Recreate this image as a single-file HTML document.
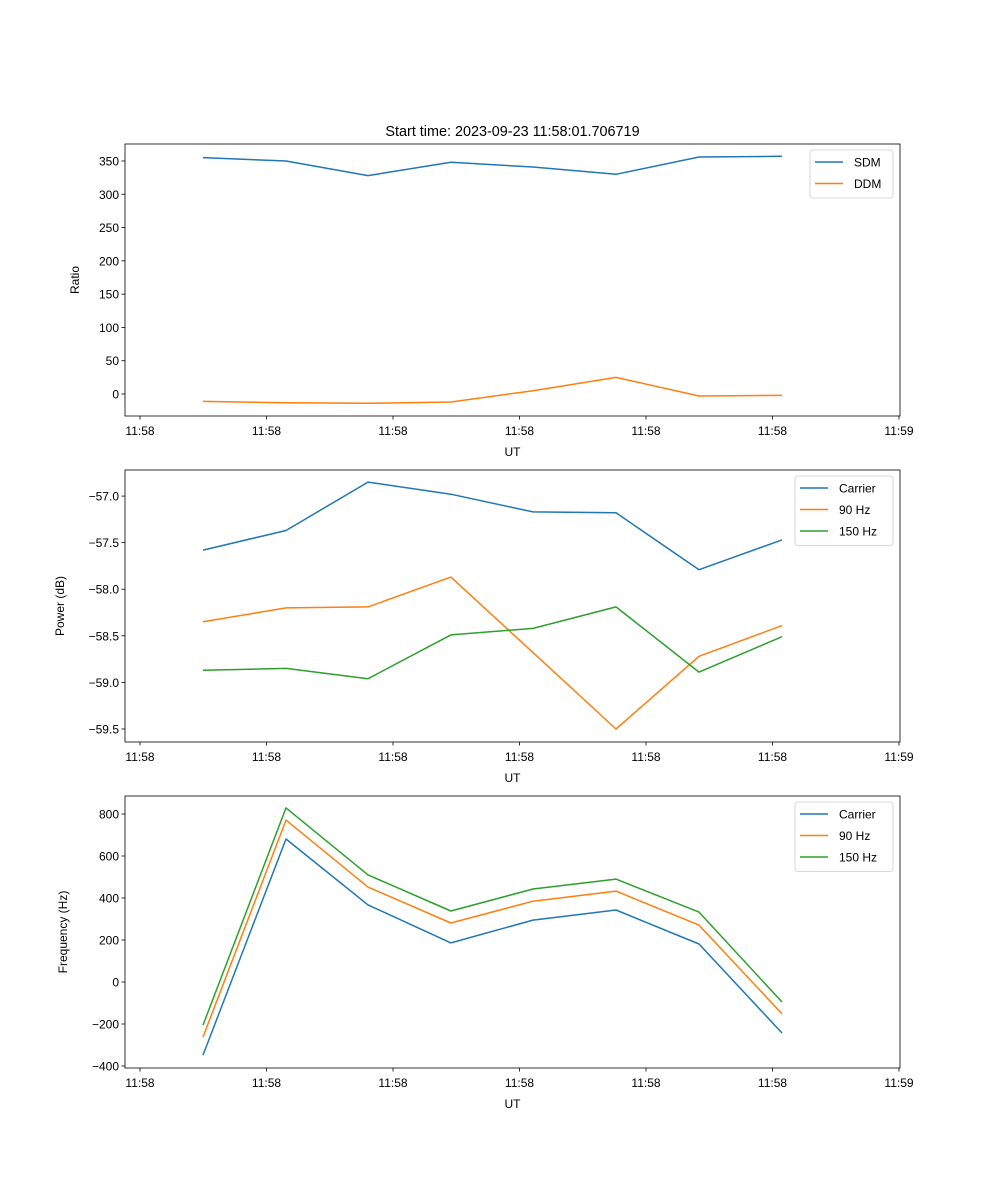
<!DOCTYPE html>
<html><head><meta charset="utf-8"><style>
html,body{margin:0;padding:0;background:#fff}
svg{display:block;font-family:"Liberation Sans","DejaVu Sans",sans-serif}
</style></head><body>
<svg id="fig" width="1000" height="1200" xmlns="http://www.w3.org/2000/svg"></svg>
<script>
const times = [0.498, 1.154, 1.802, 2.458, 3.107, 3.763, 4.419, 5.075];
const xTicks = [0, 1, 2, 3, 4, 5, 6];
const xTickLabels = ["11:58","11:58","11:58","11:58","11:58","11:58","11:59"];
const sdm = [355, 350, 328, 348, 341, 330, 356, 357];
const ddm = [-11, -13, -14, -12, 5, 25, -3, -2];
const ratioTicks = [0, 50, 100, 150, 200, 250, 300, 350];
const powCarrier = [-57.58, -57.37, -56.85, -56.98, -57.17, -57.18, -57.79, -57.47];
const pow90 = [-58.35, -58.20, -58.19, -57.87, -58.68, -59.50, -58.72, -58.39];
const pow150 = [-58.87, -58.85, -58.96, -58.49, -58.42, -58.19, -58.89, -58.51];
const powTicks = [-59.5, -59.0, -58.5, -58.0, -57.5, -57.0];
const freqCarrier = [-348, 681, 367, 186, 295, 343, 181, -243];
const freq90 = [-262, 771, 452, 281, 385, 433, 271, -152];
const freq150 = [-205, 829, 510, 338, 443, 490, 333, -95];
const freqTicks = [-400, -200, 0, 200, 400, 600, 800];

const NS = "http://www.w3.org/2000/svg";
const svg = document.getElementById('fig');
const C = {blue:"#1f77b4", orange:"#ff7f0e", green:"#2ca02c"};
function mk(tag, attrs, parent){ const e=document.createElementNS(NS,tag); for(const k in attrs) e.setAttribute(k,attrs[k]); (parent||svg).appendChild(e); return e; }
function txt(s, attrs, parent){ const e=mk('text',attrs,parent); e.textContent=s; return e; }

const L=125, R=900;
const xScale = t => 140 + t*126.5;

function panel(p){
  const g = mk('g',{});
  
  
  const y = v => p.bot - (v - p.ymin)/(p.ymax - p.ymin)*(p.bot - p.top);
  p.series.forEach(s=>{
    const d = s.vals.map((v,i)=>(i?'L':'M')+xScale(times[i]).toFixed(1)+','+y(v).toFixed(1)).join(' ');
    const path = mk('path',{d:d,fill:'none',stroke:s.color,'stroke-width':1.5,'stroke-linejoin':'round'},g);
    
    
  });
  const fr = mk('rect',{x:L,y:p.top,width:R-L,height:p.bot-p.top,fill:'none',stroke:'#000','stroke-width':0.8},g);
  
  
  xTicks.forEach((t,i)=>{
    const x=xScale(t);
    mk('line',{x1:x,x2:x,y1:p.bot,y2:p.bot+3.5,stroke:'#000','stroke-width':0.8},g);
    const tl = txt(xTickLabels[i],{x:x,y:p.bot+19,'font-size':12,'text-anchor':'middle'},g);
    
    
  });
  const xl = txt('UT',{x:(L+R)/2,y:p.bot+40,'font-size':12,'text-anchor':'middle'},g);
  
  
  p.ticks.forEach(v=>{
    const yy=y(v);
    mk('line',{x1:L-3.5,x2:L,y1:yy,y2:yy,stroke:'#000','stroke-width':0.8},g);
    const tl = txt(p.fmt(v),{x:L-6,y:yy+4.5,'font-size':12,'text-anchor':'end'},g);
    
    
  });
  const yl = txt(p.ylabel,{x:0,y:0,'font-size':12,'text-anchor':'middle',transform:`translate(${p.ylx},${(p.top+p.bot)/2}) rotate(-90)`},g);
  
  
  const lg = mk('g',{},g);
  
  
  mk('rect',{x:p.lx,y:p.top+6,width:R-7-p.lx,height:p.series.length*21.5+5,rx:3,fill:'#fff','fill-opacity':0.8,stroke:'#ccc','stroke-width':0.8},lg);
  p.series.forEach((s,i)=>{
    const yy=p.top+18+i*21.5;
    mk('line',{x1:p.lx+5,x2:p.lx+33,y1:yy,y2:yy,stroke:s.color,'stroke-width':1.5},lg);
    const t = txt(s.label,{x:p.lx+44,y:yy+4.5,'font-size':12},lg);
    
    
  });
}

const title = txt('Start time: 2023-09-23 11:58:01.706719',{x:512.5,y:136,'font-size':14.4,'text-anchor':'middle'});



panel({name:'ratio-panel',top:144,bot:416,ymin:-33,ymax:375.5,ticks:ratioTicks,fmt:v=>String(v),ylabel:'Ratio',ylx:79,lx:810,
  series:[{id:'sdm-line',label:'SDM',vals:sdm,color:C.blue},{id:'ddm-line',label:'DDM',vals:ddm,color:C.orange}]});
panel({name:'power-panel',top:470,bot:742,ymin:-59.64,ymax:-56.72,ticks:powTicks,fmt:v=>'\u2212'+Math.abs(v).toFixed(1),ylabel:'Power (dB)',ylx:64,lx:795,
  series:[{id:'power-carrier-line',label:'Carrier',vals:powCarrier,color:C.blue},{id:'power-90hz-line',label:'90 Hz',vals:pow90,color:C.orange},{id:'power-150hz-line',label:'150 Hz',vals:pow150,color:C.green}]});
panel({name:'frequency-panel',top:796,bot:1068,ymin:-409.5,ymax:885.7,ticks:freqTicks,fmt:v=>v<0?'\u2212'+Math.abs(v):String(v),ylabel:'Frequency (Hz)',ylx:67,lx:795,
  series:[{id:'freq-carrier-line',label:'Carrier',vals:freqCarrier,color:C.blue},{id:'freq-90hz-line',label:'90 Hz',vals:freq90,color:C.orange},{id:'freq-150hz-line',label:'150 Hz',vals:freq150,color:C.green}]});
</script>
</body></html>
